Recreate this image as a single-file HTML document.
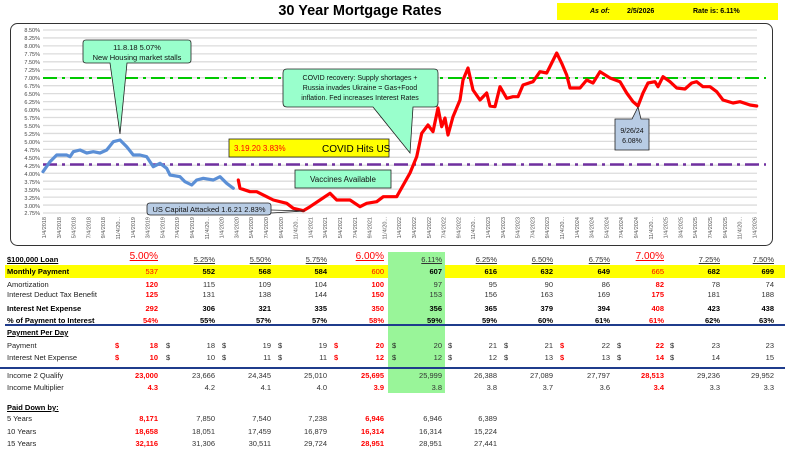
<!DOCTYPE html>
<html><head><meta charset="utf-8"><style>
body{margin:0;width:785px;height:466px;background:#fff;position:relative;overflow:hidden;font-family:"Liberation Sans",Arial,sans-serif;}
.t{position:absolute;font-size:7.5px;color:#222;white-space:nowrap;line-height:10px;}
.v{position:absolute;font-size:7.5px;color:#333;white-space:nowrap;text-align:right;line-height:10px;}
.b{font-weight:bold;color:#000;}
.rd{color:#f00;font-weight:bold;}
.u{text-decoration:underline;}
</style></head><body>
<div style="position:absolute;left:260px;top:3px;width:200px;text-align:center;font-weight:bold;font-size:14.5px;">30 Year Mortgage Rates</div>
<div style="position:absolute;left:557px;top:3px;width:221px;height:17px;background:#ffff00;"></div>
<div class="t b" style="left:590px;top:7px;font-style:italic;font-size:7px;">As of:</div>
<div class="t b" style="left:627px;top:7px;font-size:7px;">2/5/2026</div>
<div class="t b" style="left:693px;top:7px;font-size:7px;">Rate is: 6.11%</div>

<svg style="position:absolute;left:0;top:0" width="785" height="250" font-family="Liberation Sans, Arial, sans-serif">
<rect x="10.5" y="23.5" width="762" height="222" rx="7" fill="#fff" stroke="#333" stroke-width="1"/>
<g stroke="#dcdcdc" stroke-width="1.3">
<line x1="43" x2="757" y1="30" y2="30"/><line x1="43" x2="757" y1="37.96" y2="37.96"/><line x1="43" x2="757" y1="45.91" y2="45.91"/><line x1="43" x2="757" y1="53.87" y2="53.87"/><line x1="43" x2="757" y1="61.83" y2="61.83"/><line x1="43" x2="757" y1="69.78" y2="69.78"/><line x1="43" x2="757" y1="77.74" y2="77.74"/><line x1="43" x2="757" y1="85.7" y2="85.7"/><line x1="43" x2="757" y1="93.65" y2="93.65"/><line x1="43" x2="757" y1="101.61" y2="101.61"/><line x1="43" x2="757" y1="109.57" y2="109.57"/><line x1="43" x2="757" y1="117.52" y2="117.52"/><line x1="43" x2="757" y1="125.48" y2="125.48"/><line x1="43" x2="757" y1="133.43" y2="133.43"/><line x1="43" x2="757" y1="141.39" y2="141.39"/><line x1="43" x2="757" y1="149.35" y2="149.35"/><line x1="43" x2="757" y1="157.3" y2="157.3"/><line x1="43" x2="757" y1="165.26" y2="165.26"/><line x1="43" x2="757" y1="173.22" y2="173.22"/><line x1="43" x2="757" y1="181.17" y2="181.17"/><line x1="43" x2="757" y1="189.13" y2="189.13"/><line x1="43" x2="757" y1="197.09" y2="197.09"/><line x1="43" x2="757" y1="205.04" y2="205.04"/><line x1="43" x2="757" y1="213" y2="213"/>
</g>
<g font-size="5.5" fill="#444" text-anchor="end">
<text x="40" y="32">8.50%</text><text x="40" y="40">8.25%</text><text x="40" y="48">8.00%</text><text x="40" y="56">7.75%</text><text x="40" y="64">7.50%</text><text x="40" y="72">7.25%</text><text x="40" y="80">7.00%</text><text x="40" y="88">6.75%</text><text x="40" y="96">6.50%</text><text x="40" y="104">6.25%</text><text x="40" y="112">6.00%</text><text x="40" y="120">5.75%</text><text x="40" y="128">5.50%</text><text x="40" y="136">5.25%</text><text x="40" y="144">5.00%</text><text x="40" y="152">4.75%</text><text x="40" y="160">4.50%</text><text x="40" y="168">4.25%</text><text x="40" y="176">4.00%</text><text x="40" y="184">3.75%</text><text x="40" y="192">3.50%</text><text x="40" y="200">3.25%</text><text x="40" y="208">3.00%</text><text x="40" y="215">2.75%</text>
</g>
<g font-size="5.5" fill="#555" text-anchor="end">
<text transform="translate(46,217) rotate(-90)">1/4/2018</text><text transform="translate(60.8,217) rotate(-90)">3/4/2018</text><text transform="translate(75.6,217) rotate(-90)">5/4/2018</text><text transform="translate(90.4,217) rotate(-90)">7/4/2018</text><text transform="translate(105.2,217) rotate(-90)">9/4/2018</text><text transform="translate(120,217) rotate(-90)">11/4/20...</text>
<text transform="translate(134.8,217) rotate(-90)">1/4/2019</text><text transform="translate(149.6,217) rotate(-90)">3/4/2019</text><text transform="translate(164.4,217) rotate(-90)">5/4/2019</text><text transform="translate(179.2,217) rotate(-90)">7/4/2019</text><text transform="translate(194,217) rotate(-90)">9/4/2019</text><text transform="translate(208.8,217) rotate(-90)">11/4/20...</text>
<text transform="translate(223.6,217) rotate(-90)">1/4/2020</text><text transform="translate(238.4,217) rotate(-90)">3/4/2020</text><text transform="translate(253.2,217) rotate(-90)">5/4/2020</text><text transform="translate(268,217) rotate(-90)">7/4/2020</text><text transform="translate(282.8,217) rotate(-90)">9/4/2020</text><text transform="translate(297.6,217) rotate(-90)">11/4/20...</text>
<text transform="translate(312.4,217) rotate(-90)">1/4/2021</text><text transform="translate(327.2,217) rotate(-90)">3/4/2021</text><text transform="translate(342,217) rotate(-90)">5/4/2021</text><text transform="translate(356.8,217) rotate(-90)">7/4/2021</text><text transform="translate(371.6,217) rotate(-90)">9/4/2021</text><text transform="translate(386.4,217) rotate(-90)">11/4/20...</text>
<text transform="translate(401.2,217) rotate(-90)">1/4/2022</text><text transform="translate(416,217) rotate(-90)">3/4/2022</text><text transform="translate(430.8,217) rotate(-90)">5/4/2022</text><text transform="translate(445.6,217) rotate(-90)">7/4/2022</text><text transform="translate(460.4,217) rotate(-90)">9/4/2022</text><text transform="translate(475.2,217) rotate(-90)">11/4/20...</text>
<text transform="translate(490,217) rotate(-90)">1/4/2023</text><text transform="translate(504.8,217) rotate(-90)">3/4/2023</text><text transform="translate(519.6,217) rotate(-90)">5/4/2023</text><text transform="translate(534.4,217) rotate(-90)">7/4/2023</text><text transform="translate(549.2,217) rotate(-90)">9/4/2023</text><text transform="translate(564,217) rotate(-90)">11/4/20...</text>
<text transform="translate(578.8,217) rotate(-90)">1/4/2024</text><text transform="translate(593.6,217) rotate(-90)">3/4/2024</text><text transform="translate(608.4,217) rotate(-90)">5/4/2024</text><text transform="translate(623.2,217) rotate(-90)">7/4/2024</text><text transform="translate(638,217) rotate(-90)">9/4/2024</text><text transform="translate(652.8,217) rotate(-90)">11/4/20...</text>
<text transform="translate(667.6,217) rotate(-90)">1/4/2025</text><text transform="translate(682.4,217) rotate(-90)">3/4/2025</text><text transform="translate(697.2,217) rotate(-90)">5/4/2025</text><text transform="translate(712,217) rotate(-90)">7/4/2025</text><text transform="translate(726.8,217) rotate(-90)">9/4/2025</text><text transform="translate(741.6,217) rotate(-90)">11/4/20...</text>
<text transform="translate(756.4,217) rotate(-90)">1/4/2026</text>
</g>
<line x1="43" x2="766" y1="78" y2="78" stroke="#00c800" stroke-width="2" stroke-dasharray="14 5 3 5"/>
<line x1="43" x2="766" y1="164.5" y2="164.5" stroke="#7030a0" stroke-width="2.5" stroke-dasharray="14 5 3 5"/>
<polyline fill="none" stroke="#5b8fd6" stroke-width="3.2" stroke-linejoin="round" stroke-linecap="round" points="43,171.7 50,161.7 56.7,155 66.7,155 70,156.7 73.3,151.7 80,150 86.7,153 93.3,151.7 100,153 106.7,150 113.3,141.7 120,140 126.7,146.7 133.3,155 140,155 146.7,156.7 153.3,166.7 160,163.3 166.7,168.3 170,175 180,176.7 185,181.7 191.7,185 196.7,180 203.3,178.3 213.3,180 220,176.7 226.7,183.3 233.3,188.3"/>
<polyline fill="none" stroke="#f00" stroke-width="3.2" stroke-linejoin="round" stroke-linecap="round" points="238.3,180 240,188.3 250,191.7 256.7,191.7 266.7,196.7 273.3,200 286.7,203.3 293.3,208.3 303.3,210.7 310,206.7 320,200 330,193.3 336.7,200 350,200 360,206.7 366.7,203.3 376.7,201.7 383.3,196.7 393.3,196.7 396.7,196.7 410,173 416.7,156.7 421.7,133.3 428,125 433,131.7 438,108 441.7,126.7 445,118 448,135 453,116.7 460,100 463,80 468,68 473,90 480,100 486.7,93 490,106 495,106.7 500,86.7 506.7,98.3 513,96.7 518,96.7 523,85 533,81.7 540,71.7 546.7,73 556.7,53 561.7,63.3 566.7,75 570,88 580,88 586.7,80 593,83 600,71.7 610,78 620,81.7 626.7,93 633,101.7 638,106 643,93 648,83 655,81.7 658,86.7 663,76.7 670,81.7 676.7,88 685,89 691.7,83 696.7,81.7 703,86.7 710,86.7 716.7,91.7 723,100 733,103 740,101.7 750,105 756.7,106"/>
<!-- callouts -->
<path d="M86,40 H188 Q191,40 191,43 V60 Q191,63 188,63 H127 L120,134 L110,63 H86 Q83,63 83,60 V43 Q83,40 86,40 Z" fill="#99ffcc" stroke="#222" stroke-width="0.8"/>
<text x="137" y="50" font-size="7.5" text-anchor="middle" fill="#111">11.8.18  5.07%</text>
<text x="137" y="60" font-size="7.5" text-anchor="middle" fill="#111">New Housing market stalls</text>
<path d="M287,69 H434 Q438,69 438,73 V103 Q438,107 434,107 H413 L410,153 L373,107 H287 Q283,107 283,103 V73 Q283,69 287,69 Z" fill="#99ffcc" stroke="#222" stroke-width="0.8"/>
<text x="360" y="80" font-size="7" text-anchor="middle" fill="#111">COVID recovery: Supply shortages +</text>
<text x="360" y="90" font-size="7" text-anchor="middle" fill="#111">Russia invades Ukraine = Gas+Food</text>
<text x="360" y="100" font-size="7" text-anchor="middle" fill="#111">inflation.  Fed increases Interest Rates</text>
<rect x="229" y="139" width="160" height="18" fill="#ffff00" stroke="#222" stroke-width="0.8"/>
<text x="234" y="151" font-size="8" fill="#f00">3.19.20  3.83%</text>
<text x="322" y="152" font-size="10" fill="#000">COVID Hits US</text>
<rect x="295" y="170" width="96" height="18" fill="#99ffcc" stroke="#222" stroke-width="0.8"/>
<text x="343" y="182" font-size="8" text-anchor="middle" fill="#111">Vaccines Available</text>
<path d="M150,203 H268 Q271,203 271,206 V212 Q271,215 268,215 H150 Q147,215 147,212 V206 Q147,203 150,203 Z" fill="#b8cce4" stroke="#222" stroke-width="0.8"/>
<path d="M271,210 L305,211 L271,213" fill="none" stroke="#222" stroke-width="0.8"/>
<text x="209" y="212" font-size="7.5" text-anchor="middle" fill="#111">US Capital Attacked 1.6.21 2.83%</text>
<path d="M615,119 H632 L638,107 L641,119 H649 V150 H615 Z" fill="#b8cce4" stroke="#222" stroke-width="0.8"/>
<text x="632" y="133" font-size="7" text-anchor="middle" fill="#111">9/26/24</text>
<text x="632" y="143" font-size="7" text-anchor="middle" fill="#111">6.08%</text>
</svg>

<!-- table backgrounds -->
<div style="position:absolute;left:388px;top:252px;width:57px;height:141px;background:#99f599;"></div>
<div style="position:absolute;left:5px;top:265px;width:780px;height:13px;background:#ffff00;"></div>
<div style="position:absolute;left:388px;top:265px;width:57px;height:13px;background:#99f599;"></div>
<div style="position:absolute;left:5px;top:324px;width:780px;height:2px;background:#1f3c8c;"></div>
<div style="position:absolute;left:0;top:367px;width:785px;height:2px;background:#1f3c8c;"></div>

<div class="t b u" style="left:7px;top:255px;">$100,000 Loan</div>
<div class="v rd u" style="right:627px;top:252px;font-size:10px;font-weight:normal;">5.00%</div>
<div class="v u" style="right:570px;top:255px;">5.25%</div>
<div class="v u" style="right:514px;top:255px;">5.50%</div>
<div class="v u" style="right:458px;top:255px;">5.75%</div>
<div class="v rd u" style="right:401px;top:252px;font-size:10px;font-weight:normal;">6.00%</div>
<div class="v u" style="right:343px;top:255px;">6.11%</div>
<div class="v u" style="right:288px;top:255px;">6.25%</div>
<div class="v u" style="right:232px;top:255px;">6.50%</div>
<div class="v u" style="right:175px;top:255px;">6.75%</div>
<div class="v rd u" style="right:121px;top:252px;font-size:10px;font-weight:normal;">7.00%</div>
<div class="v u" style="right:65px;top:255px;">7.25%</div>
<div class="v u" style="right:11px;top:255px;">7.50%</div>

<div class="t b" style="left:7px;top:267px;">Monthly Payment</div>
<div class="v rd" style="right:627px;top:267px;font-weight:normal;">537</div><div class="v b" style="right:570px;top:267px;">552</div><div class="v b" style="right:514px;top:267px;">568</div><div class="v b" style="right:458px;top:267px;">584</div><div class="v rd" style="right:401px;top:267px;font-weight:normal;">600</div><div class="v b" style="right:343px;top:267px;">607</div><div class="v b" style="right:288px;top:267px;">616</div><div class="v b" style="right:232px;top:267px;">632</div><div class="v b" style="right:175px;top:267px;">649</div><div class="v rd" style="right:121px;top:267px;font-weight:normal;">665</div><div class="v b" style="right:65px;top:267px;">682</div><div class="v b" style="right:11px;top:267px;">699</div>

<div class="t" style="left:7px;top:280px;">Amortization</div>
<div class="v rd" style="right:627px;top:280px;">120</div><div class="v" style="right:570px;top:280px;">115</div><div class="v" style="right:514px;top:280px;">109</div><div class="v" style="right:458px;top:280px;">104</div><div class="v rd" style="right:401px;top:280px;">100</div><div class="v" style="right:343px;top:280px;">97</div><div class="v" style="right:288px;top:280px;">95</div><div class="v" style="right:232px;top:280px;">90</div><div class="v" style="right:175px;top:280px;">86</div><div class="v rd" style="right:121px;top:280px;">82</div><div class="v" style="right:65px;top:280px;">78</div><div class="v" style="right:11px;top:280px;">74</div>

<div class="t" style="left:7px;top:290px;">Interest Deduct Tax Benefit</div>
<div class="v rd" style="right:627px;top:290px;">125</div><div class="v" style="right:570px;top:290px;">131</div><div class="v" style="right:514px;top:290px;">138</div><div class="v" style="right:458px;top:290px;">144</div><div class="v rd" style="right:401px;top:290px;">150</div><div class="v" style="right:343px;top:290px;">153</div><div class="v" style="right:288px;top:290px;">156</div><div class="v" style="right:232px;top:290px;">163</div><div class="v" style="right:175px;top:290px;">169</div><div class="v rd" style="right:121px;top:290px;">175</div><div class="v" style="right:65px;top:290px;">181</div><div class="v" style="right:11px;top:290px;">188</div>

<div class="t b" style="left:7px;top:304px;">Interest Net Expense</div>
<div class="v rd" style="right:627px;top:304px;">292</div><div class="v b" style="right:570px;top:304px;">306</div><div class="v b" style="right:514px;top:304px;">321</div><div class="v b" style="right:458px;top:304px;">335</div><div class="v rd" style="right:401px;top:304px;">350</div><div class="v b" style="right:343px;top:304px;">356</div><div class="v b" style="right:288px;top:304px;">365</div><div class="v b" style="right:232px;top:304px;">379</div><div class="v b" style="right:175px;top:304px;">394</div><div class="v rd" style="right:121px;top:304px;">408</div><div class="v b" style="right:65px;top:304px;">423</div><div class="v b" style="right:11px;top:304px;">438</div>

<div class="t b" style="left:7px;top:316px;">% of Payment to Interest</div>
<div class="v rd" style="right:627px;top:316px;">54%</div><div class="v b" style="right:570px;top:316px;">55%</div><div class="v b" style="right:514px;top:316px;">57%</div><div class="v b" style="right:458px;top:316px;">57%</div><div class="v rd" style="right:401px;top:316px;">58%</div><div class="v b" style="right:343px;top:316px;">59%</div><div class="v b" style="right:288px;top:316px;">59%</div><div class="v b" style="right:232px;top:316px;">60%</div><div class="v b" style="right:175px;top:316px;">61%</div><div class="v rd" style="right:121px;top:316px;">61%</div><div class="v b" style="right:65px;top:316px;">62%</div><div class="v b" style="right:11px;top:316px;">63%</div>

<div class="t b u" style="left:7px;top:328px;">Payment Per Day</div>

<div class="t" style="left:7px;top:341px;">Payment</div>
<div class="t rd" style="left:115px;top:341px;">$</div><div class="t" style="left:166px;top:341px;">$</div><div class="t" style="left:222px;top:341px;">$</div><div class="t" style="left:278px;top:341px;">$</div><div class="t rd" style="left:334px;top:341px;">$</div><div class="t" style="left:392px;top:341px;">$</div><div class="t" style="left:448px;top:341px;">$</div><div class="t" style="left:504px;top:341px;">$</div><div class="t rd" style="left:560px;top:341px;">$</div><div class="t" style="left:617px;top:341px;">$</div><div class="t" style="left:670px;top:341px;">$</div>
<div class="v rd" style="right:627px;top:341px;">18</div><div class="v" style="right:570px;top:341px;">18</div><div class="v" style="right:514px;top:341px;">19</div><div class="v" style="right:458px;top:341px;">19</div><div class="v rd" style="right:401px;top:341px;">20</div><div class="v" style="right:343px;top:341px;">20</div><div class="v" style="right:288px;top:341px;">21</div><div class="v" style="right:232px;top:341px;">21</div><div class="v" style="right:175px;top:341px;">22</div><div class="v rd" style="right:121px;top:341px;">22</div><div class="v" style="right:65px;top:341px;">23</div><div class="v" style="right:11px;top:341px;">23</div>

<div class="t" style="left:7px;top:353px;">Interest Net Expense</div>
<div class="t rd" style="left:115px;top:353px;">$</div><div class="t" style="left:166px;top:353px;">$</div><div class="t" style="left:222px;top:353px;">$</div><div class="t" style="left:278px;top:353px;">$</div><div class="t rd" style="left:334px;top:353px;">$</div><div class="t" style="left:392px;top:353px;">$</div><div class="t" style="left:448px;top:353px;">$</div><div class="t" style="left:504px;top:353px;">$</div><div class="t rd" style="left:560px;top:353px;">$</div><div class="t" style="left:617px;top:353px;">$</div><div class="t" style="left:670px;top:353px;">$</div>
<div class="v rd" style="right:627px;top:353px;">10</div><div class="v" style="right:570px;top:353px;">10</div><div class="v" style="right:514px;top:353px;">11</div><div class="v" style="right:458px;top:353px;">11</div><div class="v rd" style="right:401px;top:353px;">12</div><div class="v" style="right:343px;top:353px;">12</div><div class="v" style="right:288px;top:353px;">12</div><div class="v" style="right:232px;top:353px;">13</div><div class="v" style="right:175px;top:353px;">13</div><div class="v rd" style="right:121px;top:353px;">14</div><div class="v" style="right:65px;top:353px;">14</div><div class="v" style="right:11px;top:353px;">15</div>

<div class="t" style="left:7px;top:371px;">Income 2 Qualify</div>
<div class="v rd" style="right:627px;top:371px;">23,000</div><div class="v" style="right:570px;top:371px;">23,666</div><div class="v" style="right:514px;top:371px;">24,345</div><div class="v" style="right:458px;top:371px;">25,010</div><div class="v rd" style="right:401px;top:371px;">25,695</div><div class="v" style="right:343px;top:371px;">25,999</div><div class="v" style="right:288px;top:371px;">26,388</div><div class="v" style="right:232px;top:371px;">27,089</div><div class="v" style="right:175px;top:371px;">27,797</div><div class="v rd" style="right:121px;top:371px;">28,513</div><div class="v" style="right:65px;top:371px;">29,236</div><div class="v" style="right:11px;top:371px;">29,952</div>

<div class="t" style="left:7px;top:383px;">Income Multiplier</div>
<div class="v rd" style="right:627px;top:383px;">4.3</div><div class="v" style="right:570px;top:383px;">4.2</div><div class="v" style="right:514px;top:383px;">4.1</div><div class="v" style="right:458px;top:383px;">4.0</div><div class="v rd" style="right:401px;top:383px;">3.9</div><div class="v" style="right:343px;top:383px;">3.8</div><div class="v" style="right:288px;top:383px;">3.8</div><div class="v" style="right:232px;top:383px;">3.7</div><div class="v" style="right:175px;top:383px;">3.6</div><div class="v rd" style="right:121px;top:383px;">3.4</div><div class="v" style="right:65px;top:383px;">3.3</div><div class="v" style="right:11px;top:383px;">3.3</div>

<div class="t b u" style="left:7px;top:403px;">Paid Down by:</div>

<div class="t" style="left:7px;top:414px;">5 Years</div>
<div class="v rd" style="right:627px;top:414px;">8,171</div><div class="v" style="right:570px;top:414px;">7,850</div><div class="v" style="right:514px;top:414px;">7,540</div><div class="v" style="right:458px;top:414px;">7,238</div><div class="v rd" style="right:401px;top:414px;">6,946</div><div class="v" style="right:343px;top:414px;">6,946</div><div class="v" style="right:288px;top:414px;">6,389</div>

<div class="t" style="left:7px;top:427px;">10 Years</div>
<div class="v rd" style="right:627px;top:427px;">18,658</div><div class="v" style="right:570px;top:427px;">18,051</div><div class="v" style="right:514px;top:427px;">17,459</div><div class="v" style="right:458px;top:427px;">16,879</div><div class="v rd" style="right:401px;top:427px;">16,314</div><div class="v" style="right:343px;top:427px;">16,314</div><div class="v" style="right:288px;top:427px;">15,224</div>

<div class="t" style="left:7px;top:439px;">15 Years</div>
<div class="v rd" style="right:627px;top:439px;">32,116</div><div class="v" style="right:570px;top:439px;">31,306</div><div class="v" style="right:514px;top:439px;">30,511</div><div class="v" style="right:458px;top:439px;">29,724</div><div class="v rd" style="right:401px;top:439px;">28,951</div><div class="v" style="right:343px;top:439px;">28,951</div><div class="v" style="right:288px;top:439px;">27,441</div>
</body></html>
